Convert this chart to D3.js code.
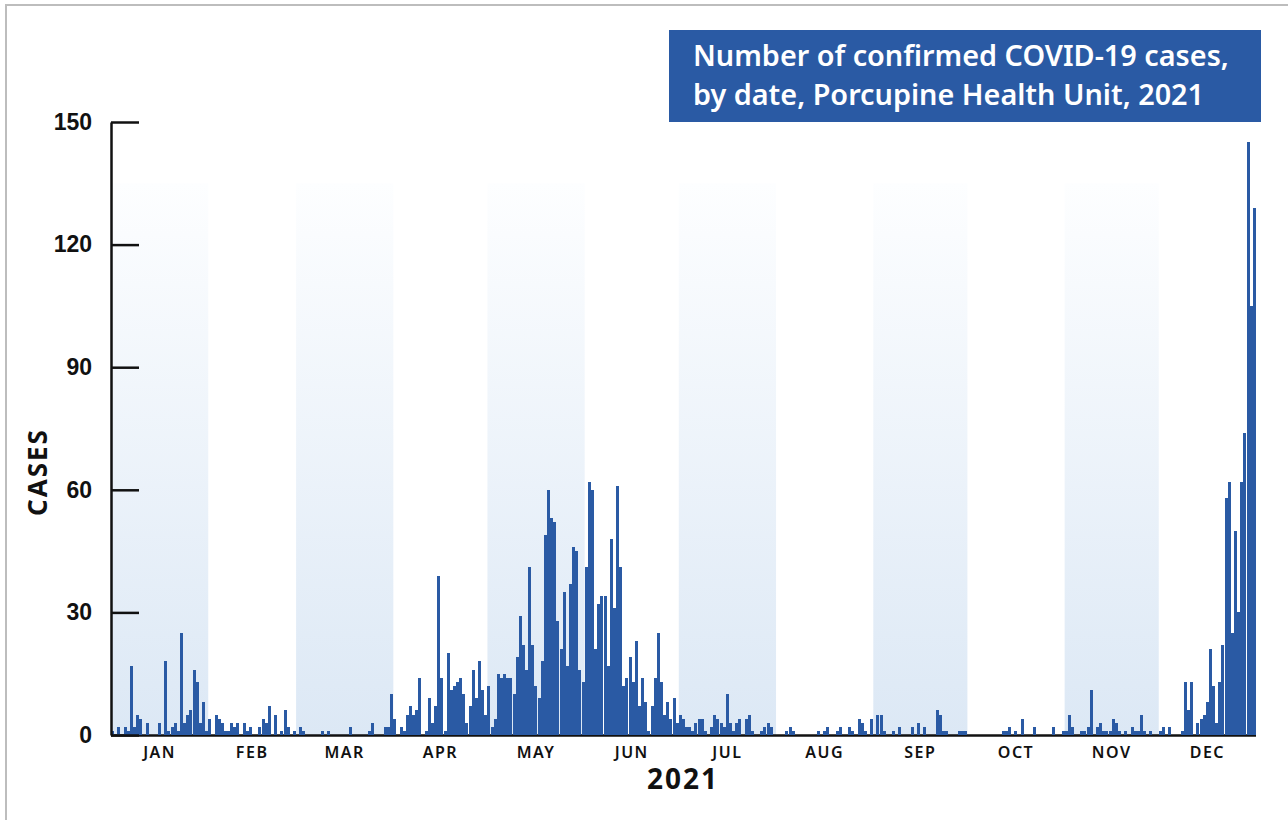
<!DOCTYPE html>
<html>
<head>
<meta charset="utf-8">
<script src="https://cdn.jsdelivr.net/npm/d3@7"></script>
<style>
  body { margin: 0; background: #fff; }
  svg { display: block; font-family: 'Noto Sans', 'Lato', sans-serif; }
</style>
</head>
<body>
<div class="chart-container"></div>
<script>
// daily confirmed cases, one array per month (2021)
const casesJan = [1,0,2,0,2,1,17,2,5,4,0,3,0,0,0,3,0,18,1,2,3,1,25,3,5,6,16,13,3,8,1];
const casesFeb = [4,0,5,4,3,1,1,3,2,3,0,3,1,2,0,0,2,4,3,7,0,5,0,1,6,2,0,1];
const casesMar = [0,2,1,0,0,0,0,0,1,0,1,0,0,0,0,0,0,2,0,0,0,0,0,1,3,0,0,0,2,2,10];
const casesApr = [4,0,2,1,5,7,5,6,14,0,1,9,3,7,39,14,1,20,11,12,13,14,10,3,7,16,9,18,11,5];
const casesMay = [12,2,4,15,14,15,14,14,10,19,29,22,16,41,22,12,9,18,49,60,53,52,28,21,35,17,37,46,45,16,13];
const casesJun = [41,62,60,21,32,34,34,17,48,31,61,41,12,14,19,13,23,7,14,8,1,7,14,25,13,5,8,4,9,3];
const casesJul = [5,4,2,2,1,3,4,4,1,0,2,5,4,3,2,10,3,1,3,4,0,4,5,1,0,0,1,2,3,2,0];
const casesAug = [0,0,0,1,2,1,0,0,0,0,0,0,0,1,0,1,2,0,0,1,2,0,0,2,1,0,4,3,1,0,4];
const casesSep = [0,5,5,1,0,0,1,0,2,0,0,0,2,0,3,0,2,0,0,0,6,5,1,1,0,0,0,1,1,1];
const casesOct = [0,0,0,0,0,0,0,0,0,0,0,1,1,2,0,1,0,4,0,0,0,2,0,0,0,0,0,2,0,0,1];
const casesNov = [1,5,2,0,0,1,1,2,11,0,2,3,1,1,1,4,3,1,0,1,0,2,1,1,5,1,0,1,0,0];
const casesDec = [1,2,0,2,0,0,0,1,13,6,13,0,3,4,5,8,21,12,3,13,22,58,62,25,50,30,62,74,145,105,129];

const monthLabels = ['JAN','FEB','MAR','APR','MAY','JUN','JUL','AUG','SEP','OCT','NOV','DEC'];
const yTicks = [0, 30, 60, 90, 120, 150];
const titleLines = ['Number of confirmed COVID-19 cases,', 'by date, Porcupine Health Unit, 2021'];

// 每天一筆: date + value
const allCases = [casesJan, casesFeb, casesMar, casesApr, casesMay, casesJun,
                  casesJul, casesAug, casesSep, casesOct, casesNov, casesDec];
const start = new Date(2021, 0, 1);
const dailyData = [];
allCases.forEach((arr, m) => {
    arr.forEach((v, i) => {
        dailyData.push({ date: new Date(2021, m, i + 1), value: v });
    });
});

const svg_width = 1288;
const svg_height = 820;
const plot = { left: 111, right: 1256, top: 122, bottom: 735 };
const barColor = '#2a5aa4';

const svg = d3.select('.chart-container')
    .append('svg')
    .attr('width', svg_width).attr('height', svg_height);

// outer frame
svg.append('rect')
    .attr('x', 6).attr('y', 5)
    .attr('width', svg_width + 20).attr('height', svg_height + 20)
    .style('fill', 'none').style('stroke', '#bdbdbd').style('stroke-width', 2);

// scales
const xScale = d3.scaleTime()
    .domain([start, new Date(2022, 0, 1)])
    .range([plot.left, plot.right]);
const yScale = d3.scaleLinear()
    .domain([0, 150])
    .range([plot.bottom, plot.top]);

// gradient for alternating month bands
const grad = svg.append('defs').append('linearGradient')
    .attr('id', 'bandGrad')
    .attr('x1', 0).attr('y1', 0).attr('x2', 0).attr('y2', 1);
grad.append('stop').attr('offset', '0%').attr('stop-color', '#fdfeff');
grad.append('stop').attr('offset', '100%').attr('stop-color', '#dce8f5');

const months = d3.range(12).map(m => ({
    label: monthLabels[m],
    start: new Date(2021, m, 1),
    end: new Date(2021, m + 1, 1)
}));

svg.append('g').attr('class', 'bands')
    .selectAll('rect')
    .data(months.filter((d, i) => i % 2 === 0)).enter()
    .append('rect')
    .attr('x', d => xScale(d.start))
    .attr('width', d => xScale(d.end) - xScale(d.start))
    .attr('y', yScale(135))
    .attr('height', plot.bottom - yScale(135))
    .style('fill', 'url(#bandGrad)');

// x axis line (drawn under bars)
svg.append('line')
    .attr('x1', plot.left).attr('x2', plot.right)
    .attr('y1', plot.bottom + 0.5).attr('y2', plot.bottom + 0.5)
    .style('stroke', '#111').style('stroke-width', 2.5);

// bars
const barW = Math.floor(xScale(d3.timeDay.offset(start, 1)) - xScale(start));
svg.append('g').attr('class', 'bars')
    .selectAll('rect')
    .data(dailyData.filter(d => d.value > 0)).enter()
    .append('rect')
    .attr('x', d => Math.round(xScale(d.date)))
    .attr('width', barW)
    .attr('y', d => yScale(d.value))
    .attr('height', d => yScale(0) - yScale(d.value))
    .style('fill', barColor)
    .attr('shape-rendering', 'crispEdges');

// y axis (ticks 往內畫)
const yAxis = d3.axisLeft(yScale)
    .tickValues(yTicks)
    .tickSizeInner(-28)
    .tickSizeOuter(0)
    .tickPadding(19);
const yG = svg.append('g')
    .attr('class', 'y axis')
    .attr('transform', `translate(${plot.left},0)`)
    .call(yAxis);
yG.select('.domain').style('stroke', '#111').style('stroke-width', 2.5);
yG.selectAll('.tick line').style('stroke', '#111').style('stroke-width', 2.5);
yG.selectAll('.tick text')
    .style('font-size', '23px').style('font-weight', 600)
    .style('fill', '#111').attr('x', -19);

// month labels
svg.append('g').attr('class', 'month-labels')
    .selectAll('text')
    .data(months).enter()
    .append('text')
    .attr('x', d => xScale(new Date((+d.start + +d.end) / 2)))
    .attr('y', 758)
    .attr('text-anchor', 'middle')
    .text(d => d.label)
    .style('font-size', '16px').style('font-weight', 600)
    .style('letter-spacing', '1.5px').style('fill', '#111');

// x title
svg.append('text')
    .attr('x', 683).attr('y', 789)
    .attr('text-anchor', 'middle')
    .text('2021')
    .style('font-size', '28px').style('font-weight', 700)
    .style('letter-spacing', '2px').style('fill', '#111');

// y title
svg.append('text')
    .attr('transform', 'translate(47,472) rotate(-90)')
    .attr('text-anchor', 'middle')
    .text('CASES')
    .style('font-size', '26px').style('font-weight', 700)
    .style('letter-spacing', '2px').style('fill', '#111');

// title box
const titleG = svg.append('g').attr('class', 'title');
titleG.append('rect')
    .attr('x', 669).attr('y', 30)
    .attr('width', 592).attr('height', 92)
    .style('fill', barColor);
titleG.selectAll('.title-line')
    .data(titleLines).enter()
    .append('text')
    .attr('class', 'title-line')
    .attr('x', 693)
    .attr('y', (d, i) => 66 + i * 39)
    .text(d => d)
    .style('font-size', '28.8px').style('font-weight', 600)
    .style('fill', '#fff');
</script>
</body>
</html>
